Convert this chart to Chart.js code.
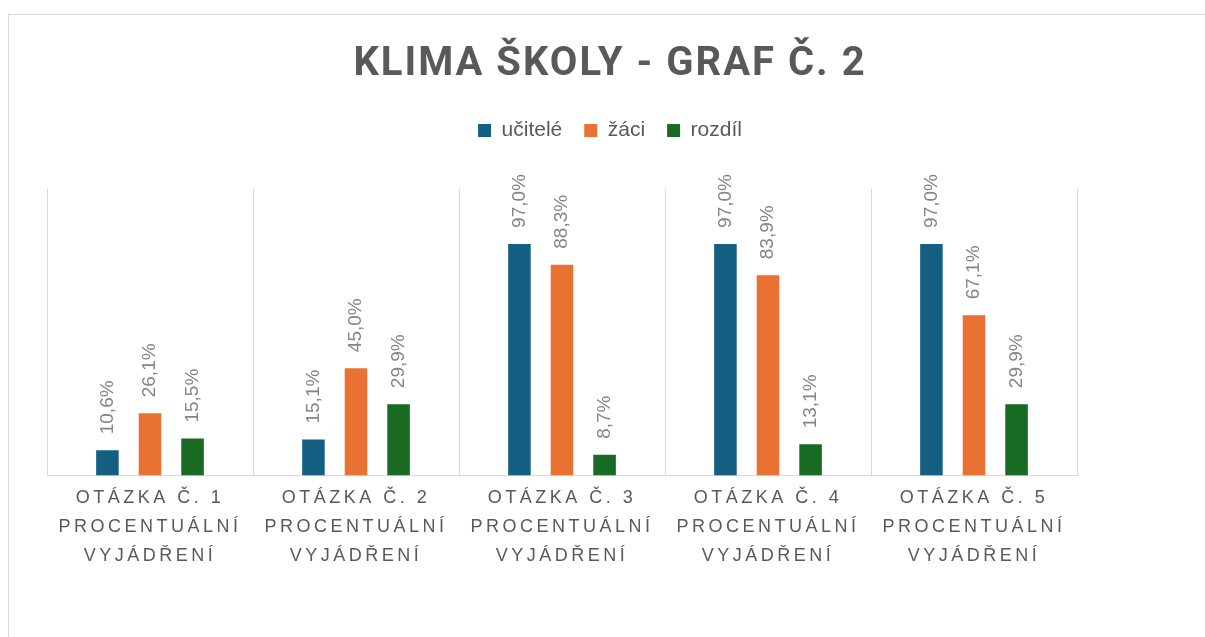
<!DOCTYPE html>
<html lang="cs">
<head>
  <meta charset="UTF-8" />
  <title>Klima školy - graf č. 2</title>
  <script src="https://cdn.jsdelivr.net/npm/chart.js"></script>
  <style>
    body {
      margin: 0;
      background: #fff;
    }
    .frame {
      position: absolute;
      left: 8px;
      top: 14px;
      width: 1202px;
      height: 622px;
      border: 1px solid #d9d9d9;
    }
  </style>
</head>
<body>
  <div class="frame"><canvas id="graf"></canvas></div>

  <script>
    const otazky = [
      ['OTÁZKA Č. 1', 'PROCENTUÁLNÍ', 'VYJÁDŘENÍ'],
      ['OTÁZKA Č. 2', 'PROCENTUÁLNÍ', 'VYJÁDŘENÍ'],
      ['OTÁZKA Č. 3', 'PROCENTUÁLNÍ', 'VYJÁDŘENÍ'],
      ['OTÁZKA Č. 4', 'PROCENTUÁLNÍ', 'VYJÁDŘENÍ'],
      ['OTÁZKA Č. 5', 'PROCENTUÁLNÍ', 'VYJÁDŘENÍ']
    ]
    const ucitele = [10.6, 15.1, 97.0, 97.0, 97.0]
    const zaci = [26.1, 45.0, 88.3, 83.9, 67.1]
    const rozdil = [15.5, 29.9, 8.7, 13.1, 29.9]

    // popisky hodnot nad sloupci (svisle)
    const popisky = {
      id: 'popisky',
      afterDatasetsDraw(chart) {
        const ctx = chart.ctx
        ctx.save()
        ctx.fillStyle = '#858585'
        ctx.font = '19px "Liberation Sans", Arial, sans-serif'
        ctx.textAlign = 'left'
        ctx.textBaseline = 'middle'
        chart.data.datasets.forEach((ds, i) => {
          chart.getDatasetMeta(i).data.forEach((bar, j) => {
            ctx.save()
            ctx.translate(bar.x, bar.y - 16)
            ctx.rotate(-Math.PI / 2)
            ctx.fillText(ds.data[j].toFixed(1).replace('.', ',') + '%', 0, 0)
            ctx.restore()
          })
        })
        ctx.restore()
      }
    }

    // mezera pod legendou + proložení písmen v nadpisu
    const upravy = {
      id: 'upravy',
      beforeInit(chart) {
        const fit = chart.legend.fit
        chart.legend.fit = function () {
          fit.bind(chart.legend)()
          this.height += 38
        }
        const kresliNadpis = chart.titleBlock.draw
        chart.titleBlock.draw = function () {
          chart.ctx.save()
          chart.ctx.letterSpacing = '2px'
          kresliNadpis.apply(chart.titleBlock, arguments)
          chart.ctx.restore()
        }
      }
    }

    const pevnaSirka = (w) => (scale) => { scale.width = w }

    new Chart(graf, {
      type: 'bar',
      data: {
        labels: otazky,
        datasets: [
          { label: 'učitelé', data: ucitele, backgroundColor: '#156082' },
          { label: 'žáci', data: zaci, backgroundColor: '#E97132' },
          { label: 'rozdíl', data: rozdil, backgroundColor: '#196B24' }
        ]
      },
      options: {
        responsive: true,
        maintainAspectRatio: false,
        animation: false,
        categoryPercentage: 0.62,
        barPercentage: 0.53,
        layout: { padding: { left: 0, right: 0, top: 0, bottom: 59 } },
        plugins: {
          title: {
            display: true,
            text: 'KLIMA ŠKOLY - GRAF Č. 2',
            color: '#595959',
            font: { family: 'Roboto', size: 40, weight: 'bold', lineHeight: 1.2 },
            padding: { top: 26, bottom: 9 }
          },
          legend: {
            position: 'top',
            labels: {
              color: '#595959',
              font: { family: '"Liberation Sans", Arial, sans-serif', size: 21 },
              boxWidth: 13,
              boxHeight: 13,
              padding: 22
            }
          },
          tooltip: { enabled: false }
        },
        scales: {
          y: {
            min: 0, max: 120,
            grid: { display: false },
            border: { display: false },
            ticks: { display: false },
            afterFit: pevnaSirka(38)
          },
          prava: {
            type: 'linear',
            position: 'right',
            grid: { display: false },
            border: { display: false },
            ticks: { display: false },
            afterFit: pevnaSirka(134)
          },
          x: {
            grid: { color: '#d9d9d9', drawTicks: false, offset: true },
            border: { color: '#d9d9d9' },
            ticks: {
              color: '#595959',
              font: { family: '"Liberation Sans", Arial, sans-serif', size: 18, lineHeight: 1.6 },
              padding: 8,
              maxRotation: 0,
              autoSkip: false
            },
            afterFit(scale) {
              if (scale._prolozeno) return
              const kresli = scale.drawLabels.bind(scale)
              scale.drawLabels = function (area) {
                this.ctx.save()
                this.ctx.letterSpacing = '3.5px'
                kresli(area)
                this.ctx.restore()
              }
              scale._prolozeno = true
            }
          }
        }
      },
      plugins: [popisky, upravy]
    })
  </script>
</body>
</html>
